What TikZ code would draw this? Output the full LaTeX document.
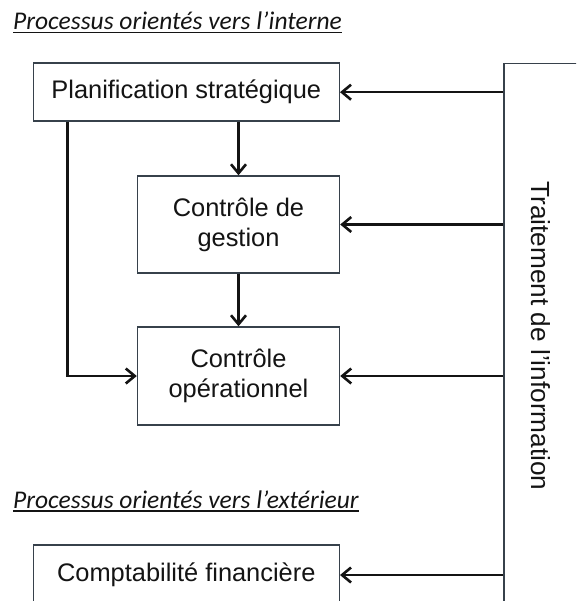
\documentclass[tikz,border=0pt]{standalone}
\usepackage{fontspec}
\setmainfont{Liberation Sans}
\newfontfamily\titlefont{Carlito}
\usetikzlibrary{arrows.meta}
\definecolor{boxc}{RGB}{55,65,75}
\definecolor{ink}{RGB}{20,20,20}
\begin{document}
\begin{tikzpicture}[x=1pt,y=-1pt,
  box/.style={draw=boxc, line width=1.4pt, fill=white, align=center, inner sep=0pt,
    text=ink, font=\fontsize{25.4}{30}\selectfont},
  conn/.style={line width=2.6pt, draw=ink, line join=miter,
    -{Straight Barb[length=9pt,width=15pt,line width=2.6pt]}},
  ttl/.style={anchor=base west, inner sep=0pt, text=ink,
    font=\titlefont\itshape\fontsize{25.5}{30}\selectfont},
  uline/.style={line width=1.4pt, draw=ink}]
\useasboundingbox (0,0) rectangle (576,601);
\clip (0,0) rectangle (576,601);

% titles
\node[ttl] (t1) at (13,30) {Processus orientés vers l’interne};
\draw[uline] ([yshift=-2.6pt]t1.base west) -- ([yshift=-2.6pt]t1.base east);
\node[ttl] (t2) at (13,508.5) {Processus orientés vers l’extérieur};
\draw[uline] ([yshift=-2.6pt]t2.base west) -- ([yshift=-2.6pt]t2.base east);

% information processing box (extends beyond the frame)
\node[draw=boxc, line width=1.4pt, minimum width=130pt, minimum height=570pt, inner sep=0pt]
  (trait) at (569,348.3) {};
\node[rotate=-90, text=ink, inner sep=0pt, font=\fontsize{26.2}{30}\selectfont]
  (traitlbl) at (541,336) {Traitement de l’information};

% process boxes
\node[box, minimum width=306pt, minimum height=58pt] (plan) at (186.3,92.2) {Planification stratégique};
\node[box, minimum width=202pt, minimum height=97pt] (gest) at (238.5,224.5) {Contrôle de\\gestion};
\node[box, minimum width=202pt, minimum height=98pt] (oper) at (238.5,376) {Contrôle\\opérationnel};
\node[box, minimum width=306pt, minimum height=60pt] (compta) at (186.3,575) {Comptabilité financière};

% connectors
\draw[conn] (plan.east -| trait.west) -- (plan.east);
\draw[conn] (gest.east -| trait.west) -- (gest.east);
\draw[conn] (oper.east -| trait.west) -- (oper.east);
\draw[conn] (compta.east -| trait.west) -- (compta.east);
\draw[conn] (plan.south -| gest.north) -- (gest.north);
\draw[conn] (gest.south) -- (oper.north);
\draw[conn] ([xshift=35pt]plan.south west) |- (oper.west);
\end{tikzpicture}
\end{document}
